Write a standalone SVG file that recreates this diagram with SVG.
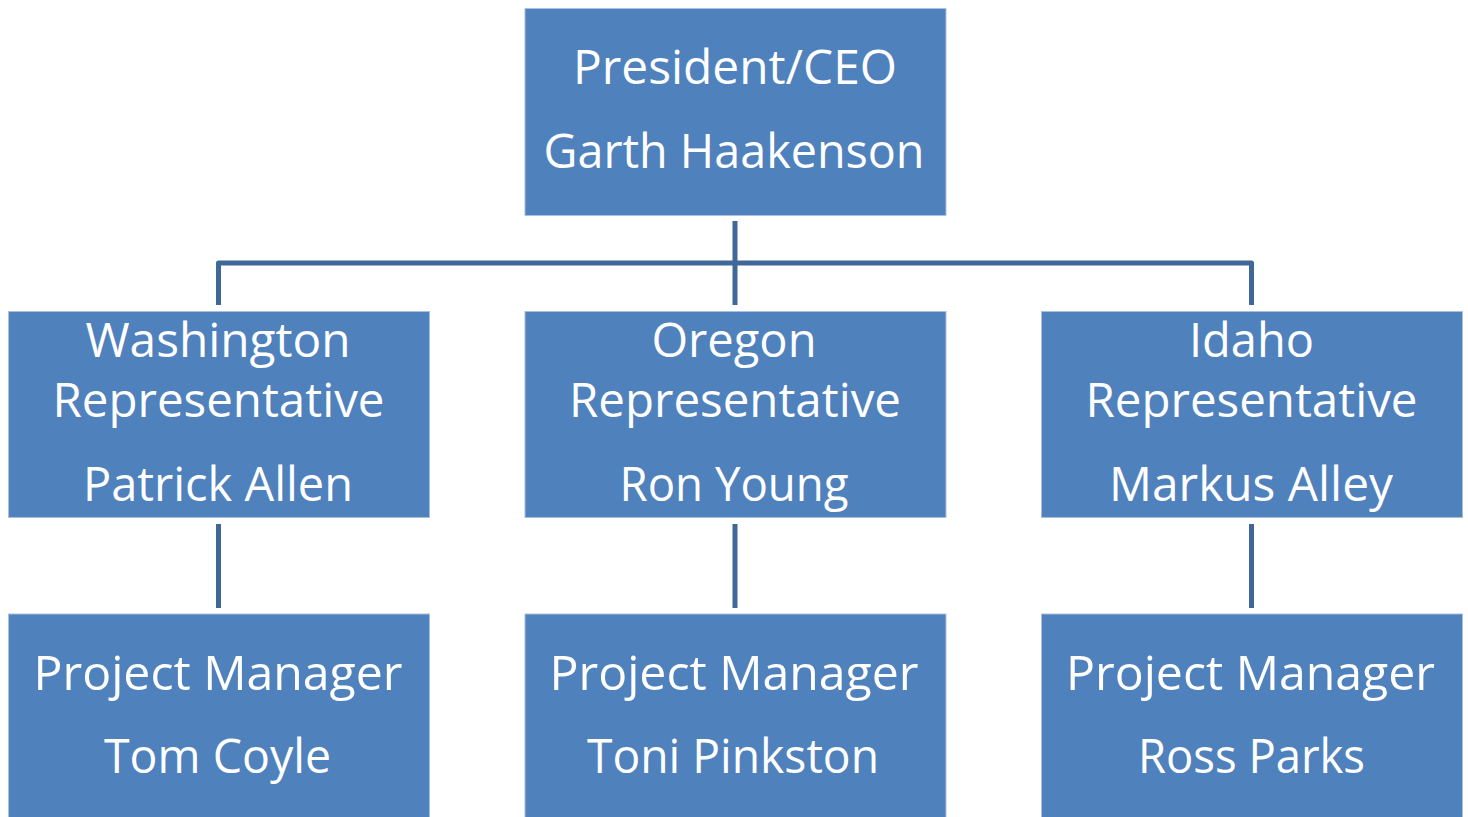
<svg xmlns="http://www.w3.org/2000/svg" width="1468" height="817" viewBox="0 0 1468 817">
<style>
.box{fill:#4f81bd;stroke:#a7c0df;stroke-width:1}
.t{font-family:"Open Sans","Noto Sans","Liberation Sans",sans-serif;font-size:48px;fill:#ffffff;text-anchor:middle}
.c{fill:none;stroke:#3f6797;stroke-width:5;stroke-linejoin:round}
</style>
<rect width="1468" height="817" fill="#ffffff"/>
<g id="connectors">
<path class="c" d="M735,221 V305"/>
<path class="c" d="M218.5,305 V263 H1251.5 V305"/>
<path class="c" d="M218.5,524 V608"/>
<path class="c" d="M735,524 V608"/>
<path class="c" d="M1251.5,524 V608"/>
</g>
<g id="ceo">
<rect class="box" x="525" y="8.5" width="421" height="207"/>
<text class="t" x="735" y="84" textLength="324" lengthAdjust="spacingAndGlyphs">President/CEO</text>
<text class="t" x="734" y="168" textLength="381" lengthAdjust="spacingAndGlyphs">Garth Haakenson</text>
</g>
<g id="washington">
<rect class="box" x="8.5" y="311.5" width="421" height="206"/>
<text class="t" x="218" y="357" textLength="265" lengthAdjust="spacingAndGlyphs">Washington</text>
<text class="t" x="218.5" y="417" textLength="332" lengthAdjust="spacingAndGlyphs">Representative</text>
<text class="t" x="218" y="501" textLength="270" lengthAdjust="spacingAndGlyphs">Patrick Allen</text>
</g>
<g id="oregon">
<rect class="box" x="525" y="311.5" width="421" height="206"/>
<text class="t" x="734" y="357" textLength="165" lengthAdjust="spacingAndGlyphs">Oregon</text>
<text class="t" x="735" y="417" textLength="332" lengthAdjust="spacingAndGlyphs">Representative</text>
<text class="t" x="734" y="501" textLength="229" lengthAdjust="spacingAndGlyphs">Ron Young</text>
</g>
<g id="idaho">
<rect class="box" x="1041.5" y="311.5" width="421" height="206"/>
<text class="t" x="1251.5" y="357" textLength="125" lengthAdjust="spacingAndGlyphs">Idaho</text>
<text class="t" x="1251.5" y="417" textLength="332" lengthAdjust="spacingAndGlyphs">Representative</text>
<text class="t" x="1251" y="501" textLength="284" lengthAdjust="spacingAndGlyphs">Markus Alley</text>
</g>
<g id="pm-washington">
<rect class="box" x="8.5" y="614" width="421" height="210"/>
<text class="t" x="218" y="690" textLength="369" lengthAdjust="spacingAndGlyphs">Project Manager</text>
<text class="t" x="217.5" y="773" textLength="227" lengthAdjust="spacingAndGlyphs">Tom Coyle</text>
</g>
<g id="pm-oregon">
<rect class="box" x="525" y="614" width="421" height="210"/>
<text class="t" x="734" y="690" textLength="369" lengthAdjust="spacingAndGlyphs">Project Manager</text>
<text class="t" x="733" y="773" textLength="292" lengthAdjust="spacingAndGlyphs">Toni Pinkston</text>
</g>
<g id="pm-idaho">
<rect class="box" x="1041.5" y="614" width="421" height="210"/>
<text class="t" x="1250.5" y="690" textLength="369" lengthAdjust="spacingAndGlyphs">Project Manager</text>
<text class="t" x="1251.5" y="773" textLength="227" lengthAdjust="spacingAndGlyphs">Ross Parks</text>
</g>
</svg>
